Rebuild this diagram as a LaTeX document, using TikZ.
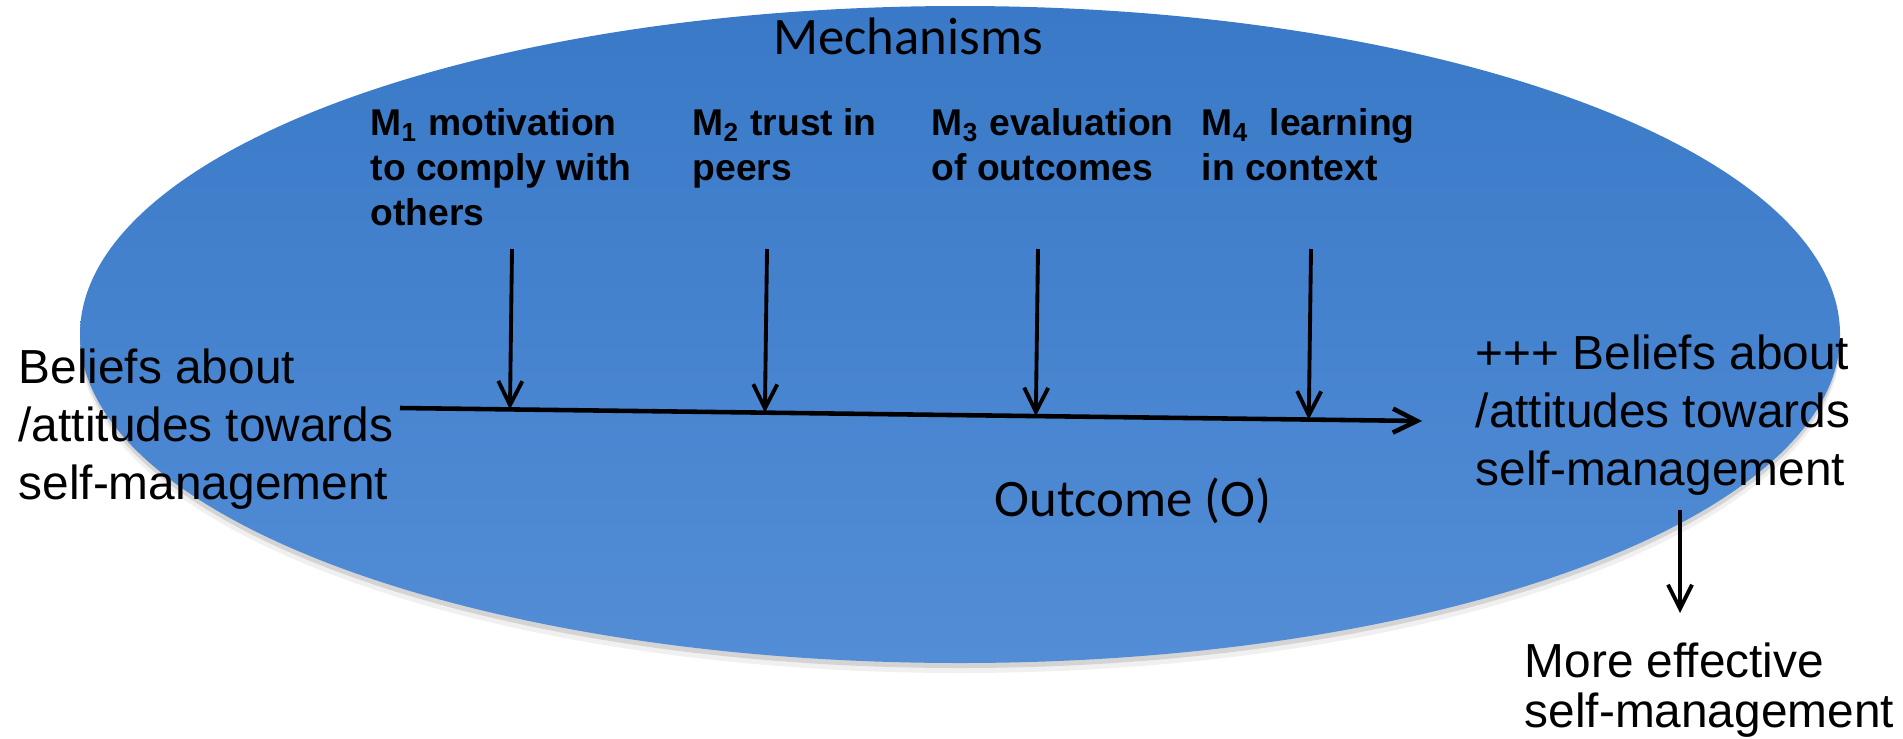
\documentclass[tikz,border=0pt]{standalone}
\usepackage{fontspec}
\setmainfont{Liberation Sans}
\newfontfamily\calibrifont{Carlito}
\usetikzlibrary{
    arrows.meta,
    calc,
    positioning,
    shadows
}
\definecolor{ovaltop}{RGB}{57,121,199}
\definecolor{ovalbottom}{RGB}{83,141,214}
\tikzset{
    mech/.style={anchor=north west, inner sep=0pt, align=left, font=\bfseries\fontsize{10.6}{12.8}\selectfont},
    belief/.style={anchor=west, inner sep=0pt, align=left, font=\fontsize{13.6}{16.6}\selectfont},
    heading/.style={inner sep=0pt, font=\calibrifont\fontsize{15}{18}\selectfont},
    arr/.style={-{Straight Barb[length=2.4mm, width=2.4mm]}, line width=1.1pt}
}

\begin{document}
\begin{tikzpicture}[x=1cm, y=1cm]
                                \useasboundingbox (0, 0) rectangle (19.03, 7.38);
                                \path[top color=ovaltop, bottom color=ovalbottom,
                                    drop shadow={shadow xshift=0, shadow yshift=-0.10, opacity=0.12},
                                    drop shadow={shadow xshift=0, shadow yshift=-0.05, opacity=0.25}]
                                (9.60, 4.035) ellipse [x radius=8.80, y radius=3.285];
                                \node[heading] (mech) at (9.08, 7.02) {Mechanisms};
                                \node[mech] (m1) at (3.70, 6.30) {M\textsubscript{1} motivation\\to comply with\\others};
                                \node[mech] (m2) at (6.92, 6.30) {M\textsubscript{2} trust in\\peers};
                                \node[mech] (m3) at (9.31, 6.30) {M\textsubscript{3} evaluation\\of outcomes};
                                \node[mech] (m4) at (12.01, 6.30) {M\textsubscript{4}~ learning\\in context};
                                \node[belief] (before) at (0.18, 3.09) {Beliefs about\\/attitudes towards\\self-management};
                                \node[belief] (after) at (14.75, 3.23) {+++ Beliefs about\\/attitudes towards\\self-management};
                                \node[belief, font=\fontsize{13.6}{14.2}\selectfont] (effect) at (15.24, 0.48) {More effective\\self-management};
                                \node[heading] (outcome) at (11.33, 2.37) {Outcome (O)};
                                \coordinate (ostart) at (4.00, 3.30);
                                \coordinate (oend) at (14.22, 3.17);
                                \coordinate (t1) at (5.12, 4.89);
                                \coordinate (t2) at (7.67, 4.89);
                                \coordinate (t3) at (10.38, 4.89);
                                \coordinate (t4) at (13.11, 4.89);
                                \coordinate (b1) at ($(ostart)!(t1)!(oend)$);
                                \coordinate (b2) at ($(ostart)!(t2)!(oend)$);
                                \coordinate (b3) at ($(ostart)!(t3)!(oend)$);
                                \coordinate (b4) at ($(ostart)!(t4)!(oend)$);
                                \coordinate (dtop) at (16.80, 2.28);
                                \coordinate (dend) at (16.80, 1.25);
                                \draw
                                (ostart) edge[arr, line width=1.3pt] (oend)
                                (t1) edge[arr] (b1)
                                (t2) edge[arr] (b2)
                                (t3) edge[arr] (b3)
                                (t4) edge[arr] (b4)
                                (dtop) edge[arr] (dend);
                            \end{tikzpicture}
\end{document}
